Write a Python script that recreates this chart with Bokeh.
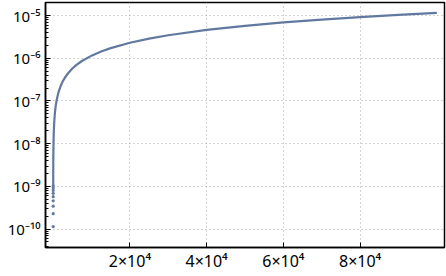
from bokeh.plotting import figure
from bokeh.models import FixedTicker, Range1d
from bokeh.embed import file_html
from bokeh.resources import INLINE

# isolated points at the smallest x (drawn as dots)
dot_x = [1, 2, 3, 4, 5, 6, 7, 8, 9]
dot_y = [1.15e-10, 2.3e-10, 3.45e-10, 4.6e-10, 5.75e-10, 6.9e-10, 8.05e-10, 9.2e-10, 1.035e-9]

# dense part of the curve
curve_x = [9, 10, 12, 15, 20, 25, 30, 40, 50, 60, 75, 100, 125, 150, 200, 250, 300, 400,
           500, 600, 750, 1000, 1250, 1500, 2000, 2500, 3000, 4000, 5000, 6000, 7500,
           10000, 12500, 15000, 20000, 25000, 30000, 40000, 50000, 60000, 70000,
           80000, 90000, 100000]
curve_y = [1.035e-9, 1.15e-9, 1.38e-9, 1.725e-9, 2.3e-9, 2.875e-9, 3.45e-9, 4.6e-9,
           5.75e-9, 6.9e-9, 8.625e-9, 1.15e-8, 1.4375e-8, 1.725e-8, 2.3e-8, 2.875e-8,
           3.45e-8, 4.6e-8, 5.75e-8, 6.9e-8, 8.625e-8, 1.15e-7, 1.4375e-7, 1.725e-7,
           2.3e-7, 2.875e-7, 3.45e-7, 4.6e-7, 5.75e-7, 6.9e-7, 8.625e-7, 1.15e-6,
           1.4375e-6, 1.725e-6, 2.3e-6, 2.875e-6, 3.45e-6, 4.6e-6, 5.75e-6, 6.9e-6,
           8.05e-6, 9.2e-6, 1.035e-5, 1.15e-5]

x_ticks = [20000, 40000, 60000, 80000]
x_tick_labels = ["2×10⁴", "4×10⁴", "6×10⁴", "8×10⁴"]
y_ticks = [1e-10, 1e-9, 1e-8, 1e-7, 1e-6, 1e-5]
y_tick_labels = ["10⁻¹⁰", "10⁻⁹", "10⁻⁸", "10⁻⁷", "10⁻⁶", "10⁻⁵"]
y_minor = [m * 10.0 ** e for e in range(-11, -4) for m in range(2, 10)]

color = "#62799f"

p = figure(width=446, height=276, y_axis_type="log", output_backend="svg",
           toolbar_location=None,
           x_range=Range1d(-2000, 102000),
           y_range=Range1d(10 ** -10.43, 10 ** -4.695))
p.min_border_left = 45
p.min_border_right = 2
p.min_border_top = 2
p.min_border_bottom = 29
p.background_fill_color = "white"
p.border_fill_color = "white"
p.outline_line_color = "black"
p.outline_line_width = 1.5

p.line(curve_x, curve_y, line_color=color, line_width=2.2)
p.scatter(dot_x, dot_y, size=3.2, fill_color=color, line_color=None)

p.xaxis.ticker = FixedTicker(ticks=x_ticks, minor_ticks=[])
p.xaxis.major_label_overrides = {t: l for t, l in zip(x_ticks, x_tick_labels)}
p.yaxis.ticker = FixedTicker(ticks=y_ticks, minor_ticks=y_minor)
p.yaxis.major_label_overrides = {t: l for t, l in zip(y_ticks, y_tick_labels)}

for ax in (p.xaxis, p.yaxis):
    ax.axis_line_color = "black"
    ax.axis_line_width = 1.5
    ax.major_tick_in = 5
    ax.major_tick_out = 0
    ax.minor_tick_in = 3
    ax.minor_tick_out = 0
    ax.major_tick_line_color = "black"
    ax.minor_tick_line_color = "black"
    ax.major_label_text_font = "Noto Sans"
    ax.major_label_text_color = "black"
p.yaxis.major_label_text_font_size = "15px"
p.yaxis.major_label_standoff = 5
p.xaxis.major_label_text_font_size = "16px"
p.xaxis.major_label_standoff = 2

p.grid.grid_line_color = "#aaaaaa"
p.grid.grid_line_dash = "1 3"
p.grid.grid_line_width = 1
p.ygrid.ticker = FixedTicker(ticks=y_ticks)
p.xgrid.ticker = FixedTicker(ticks=x_ticks)

open("out.html", "w").write(file_html(p, INLINE))
